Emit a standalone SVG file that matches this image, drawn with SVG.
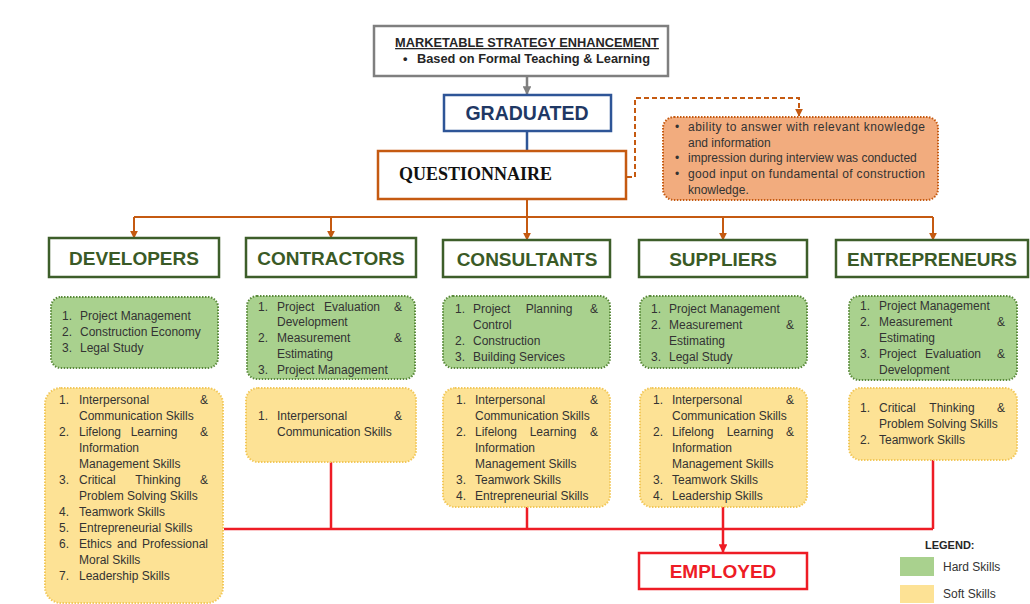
<svg xmlns="http://www.w3.org/2000/svg" width="1030" height="604" viewBox="0 0 1030 604">
  <style>
    .hdr { font-family: "Liberation Sans", Arial, sans-serif; font-weight: bold; font-size: 19px; text-anchor: middle; }
    .grp { fill: #ffffff; stroke: #3d5e2a; stroke-width: 2.5; }
    .grp-t { fill: #3a5a26; }
    .hard { fill: #a9d18e; stroke: #5a8a3a; stroke-width: 2; stroke-dasharray: 1.5 1.5; }
    .soft { fill: #fde295; stroke: #f2c85a; stroke-width: 2; stroke-dasharray: 1.5 1.5; }
    .sk { font-family: "Liberation Sans", Arial, sans-serif; font-size: 12px; fill: #333333; }
    .end { text-anchor: end; }
    .mid { text-anchor: middle; }
    .orange { fill: none; stroke: #c55a11; stroke-width: 2; }
    .red { fill: none; stroke: #ee1c25; stroke-width: 2.5; }
  </style>
  <defs>
    <marker id="arrOrange" viewBox="0 0 10 10" refX="9" refY="5" markerWidth="4" markerHeight="4" orient="auto" markerUnits="strokeWidth">
      <path d="M0,0 L10,5 L0,10 z" fill="#c55a11"/>
    </marker>
    <marker id="arrRed" viewBox="0 0 10 10" refX="9" refY="5" markerWidth="3.5" markerHeight="3.5" orient="auto" markerUnits="strokeWidth">
      <path d="M0,0 L10,5 L0,10 z" fill="#ee1c25"/>
    </marker>
    <marker id="arrGray" viewBox="0 0 10 10" refX="9" refY="5" markerWidth="3.5" markerHeight="3.5" orient="auto" markerUnits="strokeWidth">
      <path d="M0,0 L10,5 L0,10 z" fill="#7f7f7f"/>
    </marker>
  </defs>

  <rect width="1030" height="604" fill="#ffffff"/>

  <!-- connectors -->
  <g id="connectors">
    <line x1="527" y1="76" x2="527" y2="94" stroke="#7f7f7f" stroke-width="2.5" marker-end="url(#arrGray)"/>
    <line x1="527" y1="131" x2="527" y2="151" stroke="#2e5597" stroke-width="2.5"/>
    <!-- questionnaire to evaluation notes -->
    <path d="M627,177 H635 V98 H799 V116" class="orange" stroke-dasharray="5 3" marker-end="url(#arrOrange)"/>
    <!-- questionnaire to employer groups -->
    <path d="M527,200 V217" class="orange"/>
    <path d="M134,217 H933" class="orange"/>
    <path d="M134,217 V238" class="orange" marker-end="url(#arrOrange)"/>
    <path d="M331,217 V238" class="orange" marker-end="url(#arrOrange)"/>
    <path d="M527,217 V240" class="orange" marker-end="url(#arrOrange)"/>
    <path d="M723,217 V240" class="orange" marker-end="url(#arrOrange)"/>
    <path d="M933,217 V240" class="orange" marker-end="url(#arrOrange)"/>
    <!-- skills to employed -->
    <path d="M224,529 H933" class="red"/>
    <path d="M331,462 V529" class="red"/>
    <path d="M527,507 V529" class="red"/>
    <path d="M933,460 V529" class="red"/>
    <path d="M723,507 V552" class="red" marker-end="url(#arrRed)"/>
  </g>

  <!-- strategy -->
  <g id="strategy">
    <rect x="374" y="26" width="294" height="50" fill="#ffffff" stroke="#7f7f7f" stroke-width="2.5"/>
    <text x="527" y="47" font-family="Liberation Sans, Arial, sans-serif" font-weight="bold" font-size="12.8" fill="#262626" text-anchor="middle" text-decoration="underline">MARKETABLE STRATEGY ENHANCEMENT</text>
    <text y="63" font-family="Liberation Sans, Arial, sans-serif" font-weight="bold" font-size="12.8" fill="#262626"><tspan x="403">•</tspan><tspan x="417">Based on Formal Teaching &amp; Learning</tspan></text>
  </g>

  <g id="graduated">
    <rect x="444" y="95" width="167" height="36" fill="#ffffff" stroke="#2e5597" stroke-width="2.5"/>
    <text x="527" y="119.5" font-family="Liberation Sans, Arial, sans-serif" font-weight="bold" font-size="19.5" fill="#1f3864" text-anchor="middle">GRADUATED</text>
  </g>

  <g id="questionnaire">
    <rect x="378" y="151" width="248" height="48" fill="#ffffff" stroke="#c55a11" stroke-width="2.5"/>
    <text x="399" y="180" font-family="Liberation Serif, Times New Roman, serif" font-weight="bold" font-size="18" fill="#111111">QUESTIONNAIRE</text>
  </g>

  <g id="evaluation">
    <rect x="663" y="117" width="275" height="83" rx="11" fill="#f2ac7e" stroke="#c55a11" stroke-width="2" stroke-dasharray="1.5 1.5"/>
    <g class="sk">
      <text x="675" y="131">•</text>
      <text x="688" y="131" textLength="237" lengthAdjust="spacing">ability to answer with relevant knowledge</text>
      <text x="688" y="147">and information</text>
      <text x="675" y="162">•</text>
      <text x="688" y="162">impression during interview was conducted</text>
      <text x="675" y="178">•</text>
      <text x="688" y="178" textLength="237" lengthAdjust="spacing">good input on fundamental of construction</text>
      <text x="688" y="194">knowledge.</text>
    </g>
  </g>

  <!-- employer groups -->
  <g id="developers">
    <rect x="49" y="238" width="170" height="39" class="grp"/>
    <text x="134" y="264.5" class="hdr grp-t">DEVELOPERS</text>
    <rect x="51" y="297" width="167" height="71" rx="10" class="hard"/>
    <g class="sk">
      <text y="320"><tspan x="62">1.</tspan><tspan x="80">Project Management</tspan></text>
      <text y="336"><tspan x="62">2.</tspan><tspan x="80">Construction Economy</tspan></text>
      <text y="352"><tspan x="62">3.</tspan><tspan x="80">Legal Study</tspan></text>
    </g>
    <rect x="45" y="388" width="178" height="215" rx="16" class="soft"/>
    <g class="sk">
      <text y="404"><tspan x="59">1.</tspan><tspan x="79">Interpersonal</tspan></text>
      <text x="208" y="404" class="end">&amp;</text>
      <text x="79" y="420">Communication Skills</text>
      <text y="436"><tspan x="59">2.</tspan><tspan x="79">Lifelong</tspan></text>
      <text x="154" y="436" class="mid">Learning</text>
      <text x="208" y="436" class="end">&amp;</text>
      <text x="79" y="452">Information</text>
      <text x="79" y="468">Management Skills</text>
      <text y="484"><tspan x="59">3.</tspan><tspan x="79">Critical</tspan></text>
      <text x="158" y="484" class="mid">Thinking</text>
      <text x="208" y="484" class="end">&amp;</text>
      <text x="79" y="500">Problem Solving Skills</text>
      <text y="516"><tspan x="59">4.</tspan><tspan x="79">Teamwork Skills</tspan></text>
      <text y="532"><tspan x="59">5.</tspan><tspan x="79">Entrepreneurial Skills</tspan></text>
      <text y="548"><tspan x="59">6.</tspan><tspan x="79">Ethics</tspan></text>
      <text x="127" y="548" class="mid">and</text>
      <text x="208" y="548" class="end">Professional</text>
      <text x="79" y="564">Moral Skills</text>
      <text y="580"><tspan x="59">7.</tspan><tspan x="79">Leadership Skills</tspan></text>
    </g>
  </g>

  <g id="contractors">
    <rect x="246" y="238" width="170" height="39" class="grp"/>
    <text x="331" y="264.5" class="hdr grp-t">CONTRACTORS</text>
    <rect x="247" y="296" width="168" height="83" rx="10" class="hard"/>
    <g class="sk">
      <text y="311"><tspan x="258">1.</tspan><tspan x="277">Project</tspan></text>
      <text x="352" y="311" class="mid">Evaluation</text>
      <text x="402" y="311" class="end">&amp;</text>
      <text x="277" y="326">Development</text>
      <text y="342"><tspan x="258">2.</tspan><tspan x="277">Measurement</tspan></text>
      <text x="402" y="342" class="end">&amp;</text>
      <text x="277" y="358">Estimating</text>
      <text y="374"><tspan x="258">3.</tspan><tspan x="277">Project Management</tspan></text>
    </g>
    <rect x="246" y="388" width="170" height="74" rx="12" class="soft"/>
    <g class="sk">
      <text y="420"><tspan x="258">1.</tspan><tspan x="277">Interpersonal</tspan></text>
      <text x="402" y="420" class="end">&amp;</text>
      <text x="277" y="436">Communication Skills</text>
    </g>
  </g>

  <g id="consultants">
    <rect x="443" y="240" width="167" height="37" class="grp"/>
    <text x="527" y="265.5" class="hdr grp-t">CONSULTANTS</text>
    <rect x="443" y="296" width="167" height="72" rx="10" class="hard"/>
    <g class="sk">
      <text y="313"><tspan x="455">1.</tspan><tspan x="473">Project</tspan></text>
      <text x="549" y="313" class="mid">Planning</text>
      <text x="598" y="313" class="end">&amp;</text>
      <text x="473" y="329">Control</text>
      <text y="345"><tspan x="455">2.</tspan><tspan x="473">Construction</tspan></text>
      <text y="361"><tspan x="455">3.</tspan><tspan x="473">Building Services</tspan></text>
    </g>
    <rect x="443" y="388" width="167" height="119" rx="12" class="soft"/>
    <g class="sk">
      <text y="404"><tspan x="456">1.</tspan><tspan x="475">Interpersonal</tspan></text>
      <text x="598" y="404" class="end">&amp;</text>
      <text x="475" y="420">Communication Skills</text>
      <text y="436"><tspan x="456">2.</tspan><tspan x="475">Lifelong</tspan></text>
      <text x="553" y="436" class="mid">Learning</text>
      <text x="598" y="436" class="end">&amp;</text>
      <text x="475" y="452">Information</text>
      <text x="475" y="468">Management Skills</text>
      <text y="484"><tspan x="456">3.</tspan><tspan x="475">Teamwork Skills</tspan></text>
      <text y="500"><tspan x="456">4.</tspan><tspan x="475">Entrepreneurial Skills</tspan></text>
    </g>
  </g>

  <g id="suppliers">
    <rect x="639" y="240" width="168" height="37" class="grp"/>
    <text x="723" y="265.5" class="hdr grp-t">SUPPLIERS</text>
    <rect x="640" y="296" width="167" height="72" rx="10" class="hard"/>
    <g class="sk">
      <text y="313"><tspan x="651">1.</tspan><tspan x="669">Project Management</tspan></text>
      <text y="329"><tspan x="651">2.</tspan><tspan x="669">Measurement</tspan></text>
      <text x="794" y="329" class="end">&amp;</text>
      <text x="669" y="345">Estimating</text>
      <text y="361"><tspan x="651">3.</tspan><tspan x="669">Legal Study</tspan></text>
    </g>
    <rect x="640" y="388" width="167" height="119" rx="12" class="soft"/>
    <g class="sk">
      <text y="404"><tspan x="653">1.</tspan><tspan x="672">Interpersonal</tspan></text>
      <text x="794" y="404" class="end">&amp;</text>
      <text x="672" y="420">Communication Skills</text>
      <text y="436"><tspan x="653">2.</tspan><tspan x="672">Lifelong</tspan></text>
      <text x="750" y="436" class="mid">Learning</text>
      <text x="794" y="436" class="end">&amp;</text>
      <text x="672" y="452">Information</text>
      <text x="672" y="468">Management Skills</text>
      <text y="484"><tspan x="653">3.</tspan><tspan x="672">Teamwork Skills</tspan></text>
      <text y="500"><tspan x="653">4.</tspan><tspan x="672">Leadership Skills</tspan></text>
    </g>
  </g>

  <g id="entrepreneurs">
    <rect x="836" y="240" width="192" height="37" class="grp"/>
    <text x="932" y="265.5" class="hdr grp-t">ENTREPRENEURS</text>
    <rect x="849" y="296" width="168" height="84" rx="10" class="hard"/>
    <g class="sk">
      <text y="310"><tspan x="860">1.</tspan><tspan x="879">Project Management</tspan></text>
      <text y="326"><tspan x="860">2.</tspan><tspan x="879">Measurement</tspan></text>
      <text x="1005" y="326" class="end">&amp;</text>
      <text x="879" y="342">Estimating</text>
      <text y="358"><tspan x="860">3.</tspan><tspan x="879">Project</tspan></text>
      <text x="953" y="358" class="mid">Evaluation</text>
      <text x="1005" y="358" class="end">&amp;</text>
      <text x="879" y="374">Development</text>
    </g>
    <rect x="849" y="388" width="168" height="72" rx="12" class="soft"/>
    <g class="sk">
      <text y="412"><tspan x="860">1.</tspan><tspan x="879">Critical</tspan></text>
      <text x="952" y="412" class="mid">Thinking</text>
      <text x="1005" y="412" class="end">&amp;</text>
      <text x="879" y="428">Problem Solving Skills</text>
      <text y="444"><tspan x="860">2.</tspan><tspan x="879">Teamwork Skills</tspan></text>
    </g>
  </g>

  <g id="employed">
    <rect x="639" y="553" width="168" height="36" fill="#ffffff" stroke="#ee1c25" stroke-width="2.5"/>
    <text x="723" y="578" font-family="Liberation Sans, Arial, sans-serif" font-weight="bold" font-size="19" fill="#ee1c25" text-anchor="middle">EMPLOYED</text>
  </g>

  <g id="legend">
    <text x="925" y="549" font-family="Liberation Sans, Arial, sans-serif" font-weight="bold" font-size="11" fill="#262626">LEGEND:</text>
    <rect x="900" y="557" width="34" height="19" fill="#a9d18e"/>
    <text x="943" y="571" class="sk">Hard Skills</text>
    <rect x="900" y="585" width="34" height="18" fill="#fde295"/>
    <text x="943" y="598" class="sk">Soft Skills</text>
  </g>
</svg>
